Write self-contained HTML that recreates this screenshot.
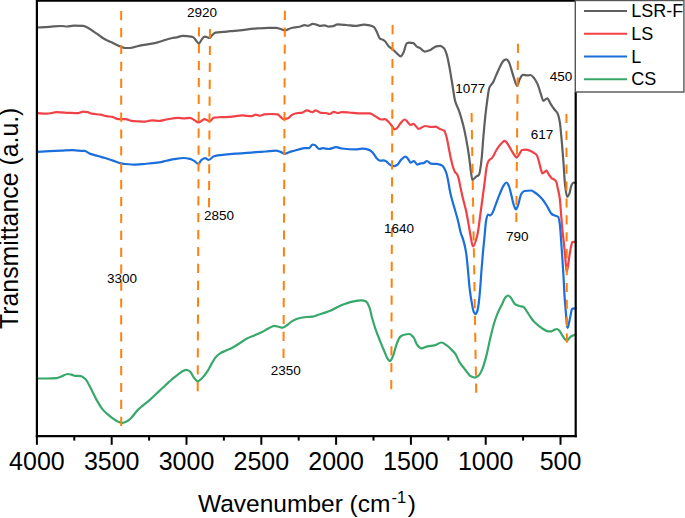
<!DOCTYPE html>
<html><head><meta charset="utf-8"><style>
html,body{margin:0;padding:0;background:#fff;}
body{width:685px;height:518px;overflow:hidden;position:relative;}
svg{position:absolute;left:0;top:0;}
text{font-family:"Liberation Sans", sans-serif;fill:#000;}
</style></head><body>
<svg width="685" height="518" viewBox="0 0 685 518">
<rect x="0" y="0" width="685" height="518" fill="#fff"/>
<path d="M37.00,27.50 C41.20,27.27 45.40,27.06 49.60,26.80 C53.50,26.56 57.40,26.00 61.30,26.00 C63.20,26.00 65.10,26.50 67.00,26.50 C69.23,26.50 71.47,25.60 73.70,25.60 C76.87,25.60 80.03,25.65 83.20,25.80 C84.13,25.84 85.07,26.39 86.00,26.80 C89.43,28.29 92.87,31.10 96.30,33.40 C98.73,35.03 101.17,37.09 103.60,38.50 C106.03,39.91 108.47,40.94 110.90,42.10 C114.30,43.72 117.70,45.67 121.10,46.80 C122.57,47.29 124.03,48.00 125.50,48.00 C127.00,48.00 128.50,48.00 130.00,48.00 C132.93,48.00 135.87,46.40 138.80,45.80 C141.70,45.21 144.60,44.82 147.50,44.30 C150.90,43.69 154.30,43.23 157.70,42.40 C159.17,42.04 160.63,41.45 162.10,41.00 C165.50,39.96 168.90,38.60 172.30,38.00 C173.77,37.74 175.23,37.66 176.70,37.40 C178.67,37.05 180.63,35.80 182.60,35.80 C184.53,35.80 186.47,36.08 188.40,36.30 C189.87,36.47 191.33,36.58 192.80,37.00 C193.77,37.28 194.73,38.86 195.70,39.90 C196.77,41.04 197.83,43.60 198.90,43.60 C199.77,43.60 200.63,40.98 201.50,39.90 C202.50,38.66 203.50,36.60 204.50,36.60 C205.20,36.60 205.90,36.83 206.60,37.00 C207.60,37.24 208.60,38.00 209.60,38.00 C210.33,38.00 211.07,36.20 211.80,35.50 C213.00,34.35 214.20,32.81 215.40,32.60 C218.07,32.13 220.73,32.16 223.40,31.90 C225.60,31.69 227.80,31.41 230.00,31.20 C233.20,30.90 236.40,30.71 239.60,30.40 C244.47,29.93 249.33,29.09 254.20,28.70 C259.07,28.31 263.93,27.80 268.80,27.80 C271.23,27.80 273.67,27.80 276.10,27.80 C277.57,27.80 279.03,28.57 280.50,29.00 C281.97,29.43 283.43,30.40 284.90,30.40 C286.83,30.40 288.77,28.65 290.70,28.20 C293.63,27.52 296.57,27.44 299.50,26.80 C301.20,26.43 302.90,25.20 304.60,25.20 C305.80,25.20 307.00,25.80 308.20,25.80 C309.67,25.80 311.13,23.90 312.60,23.90 C313.57,23.90 314.53,24.12 315.50,24.30 C316.97,24.58 318.43,25.80 319.90,25.80 C321.40,25.80 322.90,25.40 324.40,25.40 C325.87,25.40 327.33,26.60 328.80,26.60 C330.23,26.60 331.67,26.42 333.10,26.20 C334.57,25.98 336.03,24.40 337.50,24.40 C340.43,24.40 343.37,24.76 346.30,25.00 C349.20,25.24 352.10,25.90 355.00,25.90 C357.93,25.90 360.87,24.70 363.80,24.70 C365.73,24.70 367.67,25.03 369.60,25.40 C371.07,25.68 372.53,26.20 374.00,27.20 C374.97,27.86 375.93,30.18 376.90,32.00 C377.90,33.89 378.90,37.96 379.90,38.60 C380.87,39.22 381.83,39.22 382.80,39.70 C383.53,40.06 384.27,40.54 385.00,41.20 C386.20,42.27 387.40,45.13 388.60,46.30 C390.07,47.72 391.53,48.26 393.00,49.50 C394.47,50.74 395.93,52.64 397.40,53.90 C398.50,54.84 399.60,56.40 400.70,56.40 C401.53,56.40 402.37,54.62 403.20,53.20 C404.43,51.11 405.67,43.70 406.90,43.20 C407.60,42.92 408.30,42.70 409.00,42.70 C410.47,42.70 411.93,42.89 413.40,43.20 C414.63,43.46 415.87,46.25 417.10,46.90 C417.90,47.32 418.70,47.42 419.50,47.80 C421.23,48.63 422.97,51.60 424.70,51.60 C426.60,51.60 428.50,50.66 430.40,49.90 C432.33,49.13 434.27,46.86 436.20,46.40 C437.50,46.09 438.80,45.80 440.10,45.80 C441.40,45.80 442.70,46.95 444.00,48.30 C444.97,49.30 445.93,52.04 446.90,55.10 C447.83,58.05 448.77,63.61 449.70,68.60 C450.67,73.77 451.63,80.18 452.60,86.00 C453.40,90.82 454.20,97.49 455.00,100.50 C456.43,105.89 457.87,107.35 459.30,111.60 C460.60,115.45 461.90,119.90 463.20,125.10 C464.17,128.97 465.13,133.53 466.10,138.60 C467.07,143.67 468.03,149.26 469.00,156.00 C469.63,160.41 470.27,167.17 470.90,171.40 C471.40,174.74 471.90,180.00 472.40,180.00 C473.47,180.00 474.53,177.97 475.60,177.10 C476.77,176.15 477.93,176.16 479.10,174.50 C479.67,173.70 480.23,169.57 480.80,165.80 C481.10,163.81 481.40,160.94 481.70,157.90 C482.27,152.16 482.83,143.22 483.40,136.70 C484.07,129.02 484.73,121.53 485.40,115.40 C486.03,109.58 486.67,104.39 487.30,100.00 C487.97,95.38 488.63,89.60 489.30,87.90 C490.60,84.58 491.90,84.48 493.20,82.10 C494.17,80.33 495.13,77.60 496.10,75.40 C497.40,72.45 498.70,69.15 500.00,66.70 C501.27,64.31 502.53,61.30 503.80,60.50 C504.70,59.93 505.60,59.40 506.50,59.40 C507.33,59.40 508.17,60.83 509.00,62.20 C509.80,63.52 510.60,67.06 511.40,69.60 C512.23,72.25 513.07,75.43 513.90,77.80 C515.00,80.93 516.10,86.00 517.20,86.00 C518.00,86.00 518.80,81.00 519.60,79.50 C520.70,77.44 521.80,74.90 522.90,74.90 C524.53,74.90 526.17,75.40 527.80,75.40 C528.63,75.40 529.47,75.00 530.30,75.00 C531.67,75.00 533.03,76.98 534.40,78.60 C535.50,79.90 536.60,81.94 537.70,84.40 C538.77,86.79 539.83,91.18 540.90,94.20 C541.73,96.56 542.57,100.80 543.40,100.80 C544.67,100.80 545.93,98.30 547.20,98.30 C548.40,98.30 549.60,102.25 550.80,104.10 C551.90,105.80 553.00,107.51 554.10,109.00 C555.20,110.49 556.30,110.99 557.40,113.10 C558.20,114.63 559.00,117.69 559.80,122.10 C560.47,125.77 561.13,134.44 561.80,141.80 C562.37,148.06 562.93,155.46 563.50,163.00 C564.00,169.65 564.50,180.08 565.00,184.30 C565.73,190.48 566.47,197.00 567.20,197.00 C567.90,197.00 568.60,195.41 569.30,193.90 C570.00,192.39 570.70,186.80 571.40,185.40 C572.10,184.00 572.80,182.60 573.50,182.60 C574.17,182.60 574.83,182.87 575.50,183.00" fill="none" stroke="#5f5f5f" stroke-width="2.20" stroke-linejoin="round" stroke-linecap="round"/>
<path d="M37.00,113.20 C40.23,113.37 43.47,113.70 46.70,113.70 C50.10,113.70 53.50,112.20 56.90,112.20 C60.80,112.20 64.70,112.61 68.60,112.80 C71.50,112.94 74.40,113.20 77.30,113.20 C79.27,113.20 81.23,111.60 83.20,111.60 C84.67,111.60 86.13,111.91 87.60,112.20 C89.03,112.48 90.47,113.44 91.90,113.70 C94.83,114.23 97.77,114.22 100.70,114.70 C102.63,115.01 104.57,115.89 106.50,116.20 C108.47,116.52 110.43,116.54 112.40,116.90 C114.33,117.25 116.27,119.10 118.20,119.10 C120.63,119.10 123.07,119.10 125.50,119.10 C127.47,119.10 129.43,120.54 131.40,120.80 C133.37,121.06 135.33,121.17 137.30,121.30 C139.73,121.46 142.17,121.70 144.60,121.70 C147.03,121.70 149.47,120.30 151.90,120.30 C154.33,120.30 156.77,121.00 159.20,121.00 C161.63,121.00 164.07,119.91 166.50,119.50 C170.40,118.85 174.30,117.90 178.20,117.90 C180.13,117.90 182.07,118.40 184.00,118.40 C185.97,118.40 187.93,117.90 189.90,117.90 C191.33,117.90 192.77,119.36 194.20,120.10 C195.67,120.86 197.13,122.40 198.60,122.40 C199.57,122.40 200.53,121.53 201.50,121.00 C202.50,120.45 203.50,119.10 204.50,119.10 C206.20,119.10 207.90,121.30 209.60,121.30 C211.03,121.30 212.47,117.77 213.90,117.60 C216.10,117.33 218.30,117.29 220.50,117.20 C223.67,117.07 226.83,117.05 230.00,116.90 C234.17,116.70 238.33,115.40 242.50,115.40 C245.43,115.40 248.37,116.20 251.30,116.20 C252.77,116.20 254.23,114.70 255.70,114.70 C257.13,114.70 258.57,115.70 260.00,115.70 C261.47,115.70 262.93,114.54 264.40,114.40 C266.83,114.16 269.27,114.00 271.70,114.00 C273.67,114.00 275.63,114.09 277.60,114.30 C278.57,114.40 279.53,116.11 280.50,116.90 C281.47,117.69 282.43,119.10 283.40,119.10 C284.87,119.10 286.33,118.79 287.80,118.40 C289.27,118.01 290.73,115.35 292.20,114.70 C294.13,113.84 296.07,113.17 298.00,113.00 C299.20,112.89 300.40,112.91 301.60,112.80 C303.33,112.64 305.07,110.30 306.80,110.30 C308.73,110.30 310.67,112.20 312.60,112.20 C313.57,112.20 314.53,110.30 315.50,110.30 C317.47,110.30 319.43,113.00 321.40,113.00 C322.87,113.00 324.33,113.00 325.80,113.00 C327.03,113.00 328.27,114.00 329.50,114.00 C330.97,114.00 332.43,111.80 333.90,111.80 C335.33,111.80 336.77,113.00 338.20,113.00 C339.43,113.00 340.67,112.10 341.90,112.10 C344.33,112.10 346.77,112.33 349.20,112.50 C352.13,112.71 355.07,113.40 358.00,113.40 C361.87,113.40 365.73,113.40 369.60,113.40 C371.07,113.40 372.53,114.67 374.00,115.40 C376.43,116.61 378.87,119.50 381.30,119.50 C382.53,119.50 383.77,119.10 385.00,119.10 C386.20,119.10 387.40,120.85 388.60,122.00 C389.83,123.18 391.07,124.85 392.30,126.40 C393.03,127.32 393.77,129.30 394.50,129.30 C395.20,129.30 395.90,128.96 396.60,128.60 C397.83,127.97 399.07,124.86 400.30,123.50 C401.77,121.88 403.23,119.50 404.70,119.50 C405.67,119.50 406.63,121.10 407.60,122.00 C408.57,122.90 409.53,124.90 410.50,124.90 C411.47,124.90 412.43,123.90 413.40,123.90 C414.40,123.90 415.40,125.84 416.40,126.80 C417.13,127.50 417.87,128.90 418.60,128.90 C420.80,128.90 423.00,126.00 425.20,126.00 C427.17,126.00 429.13,127.00 431.10,127.00 C432.53,127.00 433.97,126.70 435.40,126.70 C436.87,126.70 438.33,128.24 439.80,128.90 C441.27,129.56 442.73,129.57 444.20,130.70 C444.93,131.27 445.67,134.01 446.40,136.50 C447.30,139.55 448.20,145.22 449.10,149.70 C449.73,152.85 450.37,156.53 451.00,159.30 C451.67,162.22 452.33,164.94 453.00,167.00 C453.63,168.95 454.27,170.87 454.90,171.90 C455.70,173.20 456.50,173.34 457.30,174.70 C457.77,175.50 458.23,176.93 458.70,178.60 C459.13,180.15 459.57,182.92 460.00,185.00 C460.87,189.16 461.73,193.37 462.60,197.10 C463.77,202.12 464.93,205.64 466.10,211.00 C466.97,214.98 467.83,220.00 468.70,224.90 C469.27,228.10 469.83,232.10 470.40,235.00 C471.27,239.44 472.13,246.50 473.00,246.50 C474.43,246.50 475.87,240.74 477.30,235.20 C478.47,230.69 479.63,219.36 480.80,211.00 C481.97,202.64 483.13,193.64 484.30,185.00 C485.17,178.58 486.03,169.38 486.90,165.80 C487.43,163.60 487.97,161.77 488.50,161.00 C489.70,159.27 490.90,159.28 492.10,157.90 C493.57,156.21 495.03,152.26 496.50,150.00 C498.03,147.64 499.57,145.36 501.10,143.80 C502.30,142.58 503.50,140.80 504.70,140.80 C505.53,140.80 506.37,142.20 507.20,143.20 C508.53,144.80 509.87,147.81 511.20,150.00 C512.33,151.86 513.47,153.91 514.60,155.40 C515.27,156.28 515.93,157.70 516.60,157.70 C517.50,157.70 518.40,155.38 519.30,154.10 C520.20,152.82 521.10,150.16 522.00,150.00 C523.13,149.80 524.27,149.70 525.40,149.70 C526.97,149.70 528.53,150.21 530.10,150.70 C531.47,151.13 532.83,152.14 534.20,153.10 C535.10,153.73 536.00,154.17 536.90,155.40 C537.57,156.31 538.23,159.23 538.90,161.50 C539.60,163.88 540.30,167.33 541.00,169.60 C541.43,171.00 541.87,173.30 542.30,173.30 C542.97,173.30 543.63,172.70 544.30,172.30 C545.00,171.88 545.70,170.70 546.40,170.70 C547.07,170.70 547.73,172.65 548.40,173.60 C549.53,175.22 550.67,177.60 551.80,178.40 C552.70,179.03 553.60,179.05 554.50,179.70 C555.17,180.18 555.83,180.95 556.50,182.40 C556.93,183.35 557.37,186.41 557.80,188.50 C558.43,191.56 559.07,193.52 559.70,198.00 C560.27,202.01 560.83,211.26 561.40,218.00 C561.73,221.96 562.07,226.68 562.40,230.00 C562.77,233.65 563.13,236.00 563.50,239.30 C563.90,242.90 564.30,246.68 564.70,250.90 C565.10,255.12 565.50,260.88 565.90,264.80 C566.17,267.41 566.43,271.70 566.70,271.70 C567.00,271.70 567.30,269.64 567.60,268.20 C568.17,265.48 568.73,260.25 569.30,256.70 C569.90,252.94 570.50,248.84 571.10,246.20 C571.47,244.59 571.83,242.28 572.20,242.20 C573.30,241.97 574.40,242.00 575.50,241.90" fill="none" stroke="#ef4146" stroke-width="2.20" stroke-linejoin="round" stroke-linecap="round"/>
<path d="M37.00,151.90 C41.20,151.67 45.40,151.40 49.60,151.20 C53.50,151.01 57.40,150.89 61.30,150.70 C64.93,150.52 68.57,150.10 72.20,150.10 C74.40,150.10 76.60,150.59 78.80,150.70 C80.73,150.80 82.67,150.77 84.60,150.90 C86.30,151.01 88.00,152.94 89.70,153.60 C92.40,154.65 95.10,155.23 97.80,156.00 C100.23,156.69 102.67,157.27 105.10,158.00 C107.53,158.73 109.97,159.59 112.40,160.40 C115.30,161.36 118.20,162.70 121.10,163.30 C122.57,163.60 124.03,163.85 125.50,164.00 C128.93,164.35 132.37,164.70 135.80,164.70 C138.73,164.70 141.67,164.29 144.60,164.00 C147.03,163.76 149.47,163.36 151.90,163.10 C154.33,162.84 156.77,162.73 159.20,162.40 C161.63,162.07 164.07,161.23 166.50,160.70 C168.93,160.17 171.37,159.57 173.80,159.20 C177.20,158.68 180.60,158.00 184.00,158.00 C185.97,158.00 187.93,158.44 189.90,158.90 C191.33,159.24 192.77,160.08 194.20,160.90 C195.57,161.68 196.93,163.90 198.30,163.90 C199.37,163.90 200.43,160.62 201.50,159.90 C202.73,159.06 203.97,158.20 205.20,158.20 C206.40,158.20 207.60,159.90 208.80,159.90 C210.50,159.90 212.20,156.80 213.90,156.30 C216.10,155.65 218.30,155.40 220.50,155.10 C223.67,154.67 226.83,154.37 230.00,154.10 C232.23,153.91 234.47,153.76 236.70,153.60 C240.10,153.36 243.50,153.15 246.90,152.90 C249.83,152.68 252.77,152.42 255.70,152.20 C259.10,151.95 262.50,151.75 265.90,151.50 C269.30,151.25 272.70,150.70 276.10,150.70 C277.57,150.70 279.03,151.41 280.50,151.90 C281.97,152.39 283.43,153.80 284.90,153.80 C286.83,153.80 288.77,152.20 290.70,151.60 C293.13,150.84 295.57,150.29 298.00,149.70 C300.20,149.17 302.40,148.20 304.60,148.20 C306.03,148.20 307.47,148.20 308.90,148.20 C310.13,148.20 311.37,144.60 312.60,144.60 C313.33,144.60 314.07,144.79 314.80,145.00 C316.27,145.41 317.73,149.00 319.20,149.00 C320.43,149.00 321.67,148.20 322.90,148.20 C324.87,148.20 326.83,149.00 328.80,149.00 C331.23,149.00 333.67,147.20 336.10,147.20 C338.03,147.20 339.97,148.28 341.90,148.50 C346.27,148.99 350.63,149.40 355.00,149.40 C357.43,149.40 359.87,148.70 362.30,148.70 C364.73,148.70 367.17,149.27 369.60,150.10 C370.83,150.52 372.07,152.05 373.30,153.40 C374.50,154.71 375.70,157.35 376.90,158.50 C377.90,159.46 378.90,160.70 379.90,160.70 C381.10,160.70 382.30,160.40 383.50,160.40 C384.47,160.40 385.43,160.90 386.40,161.40 C387.37,161.90 388.33,163.70 389.30,164.30 C390.77,165.21 392.23,166.20 393.70,166.20 C394.93,166.20 396.17,165.47 397.40,164.70 C398.60,163.95 399.80,161.06 401.00,159.90 C402.47,158.48 403.93,156.60 405.40,156.60 C406.37,156.60 407.33,158.10 408.30,159.20 C409.07,160.07 409.83,162.70 410.60,162.70 C411.70,162.70 412.80,161.00 413.90,161.00 C415.00,161.00 416.10,164.60 417.20,164.60 C418.33,164.60 419.47,163.53 420.60,163.40 C421.57,163.29 422.53,163.32 423.50,163.20 C424.63,163.06 425.77,161.00 426.90,161.00 C428.20,161.00 429.50,163.43 430.80,163.60 C432.23,163.78 433.67,163.78 435.10,163.90 C436.40,164.01 437.70,164.08 439.00,164.30 C440.10,164.48 441.20,164.90 442.30,165.60 C443.10,166.11 443.90,167.51 444.70,169.00 C445.37,170.24 446.03,172.06 446.70,174.30 C447.17,175.87 447.63,178.16 448.10,180.50 C448.60,183.01 449.10,186.61 449.60,189.20 C450.17,192.13 450.73,194.80 451.30,197.10 C452.47,201.83 453.63,205.19 454.80,209.30 C455.93,213.29 457.07,216.81 458.20,221.40 C458.97,224.50 459.73,229.25 460.50,232.00 C461.47,235.47 462.43,236.98 463.40,240.40 C464.30,243.59 465.20,247.01 466.10,252.60 C466.67,256.12 467.23,262.48 467.80,268.20 C468.37,273.92 468.93,282.46 469.50,287.30 C470.37,294.70 471.23,300.09 472.10,304.70 C472.60,307.36 473.10,310.31 473.60,311.50 C474.17,312.85 474.73,314.20 475.30,314.20 C475.93,314.20 476.57,312.96 477.20,311.50 C477.60,310.58 478.00,308.05 478.40,305.50 C478.93,302.09 479.47,296.71 480.00,290.80 C480.50,285.26 481.00,276.44 481.50,270.00 C482.03,263.13 482.57,256.58 483.10,250.80 C483.57,245.74 484.03,241.62 484.50,236.90 C485.00,231.84 485.50,224.24 486.00,221.40 C486.60,218.00 487.20,214.50 487.80,214.50 C488.67,214.50 489.53,215.30 490.40,215.30 C490.97,215.30 491.53,214.37 492.10,213.60 C493.27,212.01 494.43,207.88 495.60,204.90 C497.03,201.24 498.47,197.05 499.90,193.60 C501.07,190.79 502.23,187.47 503.40,185.80 C504.43,184.32 505.47,182.50 506.50,182.50 C507.33,182.50 508.17,184.56 509.00,186.40 C509.80,188.17 510.60,192.32 511.40,195.40 C512.23,198.61 513.07,203.14 513.90,205.30 C514.60,207.11 515.30,209.40 516.00,209.40 C516.67,209.40 517.33,206.99 518.00,205.30 C519.10,202.52 520.20,195.33 521.30,193.80 C522.37,192.31 523.43,191.16 524.50,191.00 C526.70,190.66 528.90,190.50 531.10,190.50 C532.20,190.50 533.30,191.54 534.40,192.20 C535.50,192.86 536.60,193.68 537.70,194.60 C539.33,195.96 540.97,197.53 542.60,199.50 C544.23,201.47 545.87,204.26 547.50,206.90 C548.87,209.11 550.23,212.99 551.60,214.00 C552.70,214.82 553.80,215.14 554.90,215.60 C556.00,216.06 557.10,215.98 558.20,216.80 C558.73,217.20 559.27,220.57 559.80,224.20 C560.27,227.38 560.73,235.34 561.20,241.60 C561.60,246.96 562.00,252.96 562.40,259.00 C562.77,264.54 563.13,270.07 563.50,276.30 C563.87,282.53 564.23,291.10 564.60,296.60 C565.00,302.60 565.40,306.89 565.80,311.70 C566.17,316.11 566.53,322.13 566.90,324.40 C567.17,326.05 567.43,327.90 567.70,327.90 C568.03,327.90 568.37,325.73 568.70,324.40 C569.27,322.14 569.83,318.90 570.40,316.30 C570.97,313.70 571.53,309.01 572.10,308.80 C573.23,308.37 574.37,308.40 575.50,308.20" fill="none" stroke="#1a6fdc" stroke-width="2.20" stroke-linejoin="round" stroke-linecap="round"/>
<path d="M37.00,378.50 C40.23,378.50 43.47,378.50 46.70,378.50 C50.10,378.50 53.50,378.37 56.90,378.10 C58.37,377.98 59.83,377.05 61.30,376.50 C63.47,375.69 65.63,374.00 67.80,374.00 C69.03,374.00 70.27,374.33 71.50,374.60 C72.70,374.86 73.90,375.69 75.10,375.80 C77.07,375.98 79.03,375.91 81.00,376.10 C82.47,376.24 83.93,377.62 85.40,379.00 C87.10,380.60 88.80,384.56 90.50,387.70 C92.43,391.27 94.37,395.94 96.30,399.40 C98.27,402.92 100.23,406.48 102.20,408.90 C104.13,411.28 106.07,413.03 108.00,414.70 C109.93,416.37 111.87,417.85 113.80,419.10 C115.50,420.20 117.20,421.48 118.90,422.00 C120.13,422.38 121.37,422.80 122.60,422.80 C124.07,422.80 125.53,422.01 127.00,421.30 C128.47,420.59 129.93,419.15 131.40,417.70 C132.60,416.52 133.80,414.73 135.00,413.30 C136.00,412.11 137.00,410.81 138.00,409.80 C141.67,406.11 145.33,403.83 149.00,400.60 C152.40,397.60 155.80,394.27 159.20,391.10 C162.60,387.93 166.00,384.58 169.40,381.60 C172.33,379.03 175.27,376.23 178.20,374.30 C180.87,372.54 183.53,369.90 186.20,369.90 C187.43,369.90 188.67,370.62 189.90,371.40 C191.33,372.31 192.77,376.39 194.20,378.00 C195.43,379.38 196.67,381.30 197.90,381.30 C199.10,381.30 200.30,379.77 201.50,378.70 C203.47,376.94 205.43,374.32 207.40,371.40 C208.87,369.22 210.33,365.84 211.80,363.40 C213.23,361.01 214.67,358.36 216.10,356.80 C217.57,355.20 219.03,353.98 220.50,353.10 C222.00,352.20 223.50,351.69 225.00,351.00 C227.43,349.88 229.87,348.96 232.30,347.70 C234.73,346.44 237.17,344.82 239.60,343.30 C242.03,341.78 244.47,339.85 246.90,338.60 C249.33,337.35 251.77,336.55 254.20,335.50 C256.63,334.45 259.07,333.50 261.50,332.30 C263.93,331.10 266.37,329.35 268.80,328.20 C270.73,327.28 272.67,325.80 274.60,325.80 C276.07,325.80 277.53,326.56 279.00,326.90 C280.23,327.19 281.47,327.70 282.70,327.70 C283.90,327.70 285.10,326.55 286.30,325.80 C288.27,324.57 290.23,322.23 292.20,321.10 C294.13,319.99 296.07,318.99 298.00,318.50 C300.93,317.75 303.87,317.22 306.80,317.00 C308.73,316.85 310.67,316.87 312.60,316.70 C314.53,316.53 316.47,315.44 318.40,314.80 C320.60,314.07 322.80,313.35 325.00,312.60 C326.80,311.98 328.60,311.43 330.40,310.70 C333.87,309.29 337.33,306.93 340.80,305.50 C344.30,304.05 347.80,302.52 351.30,301.80 C354.77,301.09 358.23,300.30 361.70,300.30 C363.13,300.30 364.57,300.79 366.00,301.50 C367.17,302.08 368.33,304.71 369.50,307.60 C370.37,309.75 371.23,314.89 372.10,318.00 C373.27,322.19 374.43,325.91 375.60,329.30 C377.03,333.47 378.47,336.99 379.90,340.60 C381.33,344.21 382.77,347.68 384.20,351.00 C385.37,353.70 386.53,357.28 387.70,358.80 C388.47,359.80 389.23,361.00 390.00,361.00 C390.97,361.00 391.93,358.29 392.90,356.20 C394.07,353.67 395.23,347.98 396.40,344.90 C397.57,341.82 398.73,338.23 399.90,337.10 C401.03,336.01 402.17,335.31 403.30,335.00 C405.33,334.44 407.37,334.00 409.40,334.00 C410.80,334.00 412.20,335.73 413.60,337.40 C414.73,338.75 415.87,343.18 417.00,344.60 C418.47,346.43 419.93,348.40 421.40,348.40 C423.43,348.40 425.47,346.68 427.50,346.30 C429.83,345.86 432.17,345.86 434.50,345.40 C436.83,344.94 439.17,342.50 441.50,342.50 C443.27,342.50 445.03,344.19 446.80,345.40 C448.53,346.59 450.27,348.42 452.00,350.20 C453.17,351.40 454.33,352.51 455.50,354.20 C456.77,356.04 458.03,359.75 459.30,361.80 C461.23,364.93 463.17,367.09 465.10,369.50 C467.03,371.91 468.97,375.33 470.90,376.30 C472.20,376.95 473.50,377.60 474.80,377.60 C476.07,377.60 477.33,376.69 478.60,375.70 C479.90,374.68 481.20,371.66 482.50,368.60 C483.77,365.62 485.03,360.82 486.30,356.00 C487.60,351.06 488.90,344.05 490.20,338.60 C491.50,333.15 492.80,327.45 494.10,323.20 C495.37,319.06 496.63,315.55 497.90,312.60 C499.20,309.57 500.50,307.42 501.80,304.80 C503.03,302.32 504.27,298.54 505.50,297.30 C506.37,296.43 507.23,295.50 508.10,295.50 C508.97,295.50 509.83,296.71 510.70,297.60 C512.17,299.11 513.63,303.40 515.10,304.30 C516.57,305.20 518.03,305.56 519.50,306.00 C520.83,306.40 522.17,306.43 523.50,307.00 C524.67,307.50 525.83,310.03 527.00,311.70 C528.13,313.32 529.27,315.30 530.40,316.90 C531.57,318.55 532.73,320.25 533.90,321.50 C535.43,323.14 536.97,324.37 538.50,325.60 C540.07,326.85 541.63,328.07 543.20,329.00 C544.73,329.91 546.27,331.30 547.80,331.30 C548.97,331.30 550.13,331.30 551.30,331.30 C552.47,331.30 553.63,329.99 554.80,329.60 C555.57,329.35 556.33,329.00 557.10,329.00 C557.87,329.00 558.63,330.01 559.40,330.80 C560.37,331.80 561.33,333.95 562.30,335.40 C563.27,336.85 564.23,338.67 565.20,339.50 C565.77,339.99 566.33,340.60 566.90,340.60 C567.67,340.60 568.43,339.05 569.20,338.30 C570.00,337.52 570.80,336.39 571.60,336.00 C572.90,335.37 574.20,335.20 575.50,334.80" fill="none" stroke="#38a86a" stroke-width="2.20" stroke-linejoin="round" stroke-linecap="round"/>
<line x1="121.20" y1="11.10" x2="121.20" y2="425.90" stroke="#ff800e" stroke-width="2" stroke-dasharray="9.20 7.70"/>
<line x1="199.00" y1="27.20" x2="197.70" y2="391.30" stroke="#ff800e" stroke-width="2" stroke-dasharray="9.20 7.70"/>
<line x1="210.00" y1="29.00" x2="209.00" y2="207.20" stroke="#ff800e" stroke-width="2" stroke-dasharray="9.20 7.70"/>
<line x1="284.90" y1="10.70" x2="283.50" y2="357.90" stroke="#ff800e" stroke-width="2" stroke-dasharray="9.20 7.70"/>
<line x1="392.60" y1="25.10" x2="391.30" y2="389.20" stroke="#ff800e" stroke-width="2" stroke-dasharray="9.20 7.70"/>
<line x1="471.60" y1="113.10" x2="476.20" y2="392.70" stroke="#ff800e" stroke-width="2" stroke-dasharray="9.20 7.70"/>
<line x1="518.00" y1="43.80" x2="516.30" y2="222.00" stroke="#ff800e" stroke-width="2" stroke-dasharray="9.20 7.70"/>
<line x1="566.40" y1="113.90" x2="566.90" y2="342.80" stroke="#ff800e" stroke-width="2" stroke-dasharray="9.20 7.70"/>
<text x="201.9" y="16.6" font-size="13.5" text-anchor="middle">2920</text>
<text x="219.0" y="219.5" font-size="13.5" text-anchor="middle">2850</text>
<text x="122.0" y="282.8" font-size="13.5" text-anchor="middle">3300</text>
<text x="398.9" y="232.8" font-size="13.5" text-anchor="middle">1640</text>
<text x="285.7" y="374.9" font-size="13.5" text-anchor="middle">2350</text>
<text x="470.3" y="92.9" font-size="13.5" text-anchor="middle">1077</text>
<text x="517.3" y="240.7" font-size="13.5" text-anchor="middle">790</text>
<text x="541.9" y="138.6" font-size="13.5" text-anchor="middle">617</text>
<text x="561.0" y="80.6" font-size="13.5" text-anchor="middle">450</text>
<line x1="36.9" y1="0" x2="36.9" y2="437" stroke="#000" stroke-width="2.2"/>
<line x1="35.8" y1="436.1" x2="576.8" y2="436.1" stroke="#000" stroke-width="2.2"/>
<line x1="36" y1="0.7" x2="576" y2="0.7" stroke="#000" stroke-width="2.2"/>
<line x1="575.7" y1="92" x2="575.7" y2="437.2" stroke="#000" stroke-width="2.2"/>
<line x1="36.90" y1="436" x2="36.90" y2="444.8" stroke="#000" stroke-width="2"/>
<text x="36.90" y="470.0" font-size="25" text-anchor="middle">4000</text>
<line x1="74.30" y1="436" x2="74.30" y2="440.6" stroke="#000" stroke-width="2"/>
<line x1="111.70" y1="436" x2="111.70" y2="444.8" stroke="#000" stroke-width="2"/>
<text x="111.70" y="470.0" font-size="25" text-anchor="middle">3500</text>
<line x1="149.10" y1="436" x2="149.10" y2="440.6" stroke="#000" stroke-width="2"/>
<line x1="186.50" y1="436" x2="186.50" y2="444.8" stroke="#000" stroke-width="2"/>
<text x="186.50" y="470.0" font-size="25" text-anchor="middle">3000</text>
<line x1="223.90" y1="436" x2="223.90" y2="440.6" stroke="#000" stroke-width="2"/>
<line x1="261.30" y1="436" x2="261.30" y2="444.8" stroke="#000" stroke-width="2"/>
<text x="261.30" y="470.0" font-size="25" text-anchor="middle">2500</text>
<line x1="298.70" y1="436" x2="298.70" y2="440.6" stroke="#000" stroke-width="2"/>
<line x1="336.10" y1="436" x2="336.10" y2="444.8" stroke="#000" stroke-width="2"/>
<text x="336.10" y="470.0" font-size="25" text-anchor="middle">2000</text>
<line x1="373.50" y1="436" x2="373.50" y2="440.6" stroke="#000" stroke-width="2"/>
<line x1="410.90" y1="436" x2="410.90" y2="444.8" stroke="#000" stroke-width="2"/>
<text x="410.90" y="470.0" font-size="25" text-anchor="middle">1500</text>
<line x1="448.30" y1="436" x2="448.30" y2="440.6" stroke="#000" stroke-width="2"/>
<line x1="485.70" y1="436" x2="485.70" y2="444.8" stroke="#000" stroke-width="2"/>
<text x="485.70" y="470.0" font-size="25" text-anchor="middle">1000</text>
<line x1="523.10" y1="436" x2="523.10" y2="440.6" stroke="#000" stroke-width="2"/>
<line x1="560.50" y1="436" x2="560.50" y2="444.8" stroke="#000" stroke-width="2"/>
<text x="560.50" y="470.0" font-size="25" text-anchor="middle">500</text>
<rect x="575.3" y="0.5" width="108.6" height="91.5" fill="#fff" stroke="#555" stroke-width="1.4"/>
<line x1="584" y1="11.00" x2="627" y2="11.00" stroke="#5f5f5f" stroke-width="2.2"/>
<text x="631.3" y="17.10" font-size="18">LSR-F</text>
<line x1="584" y1="33.75" x2="627" y2="33.75" stroke="#ef4146" stroke-width="2.2"/>
<text x="631.3" y="39.85" font-size="18">LS</text>
<line x1="584" y1="56.50" x2="627" y2="56.50" stroke="#1a6fdc" stroke-width="2.2"/>
<text x="631.3" y="62.60" font-size="18">L</text>
<line x1="584" y1="79.25" x2="627" y2="79.25" stroke="#38a86a" stroke-width="2.2"/>
<text x="631.3" y="85.35" font-size="18">CS</text>
<text x="198" y="512.4" font-size="24.5">Wavenumber (cm<tspan font-size="16.5" dx="1" dy="-9.8">-1</tspan><tspan dx="1.6" dy="9.8">)</tspan></text>
<text transform="translate(17.8,218.3) rotate(-90)" font-size="24.85" text-anchor="middle">Transmittance (a.u.)</text>
</svg>
</body></html>
